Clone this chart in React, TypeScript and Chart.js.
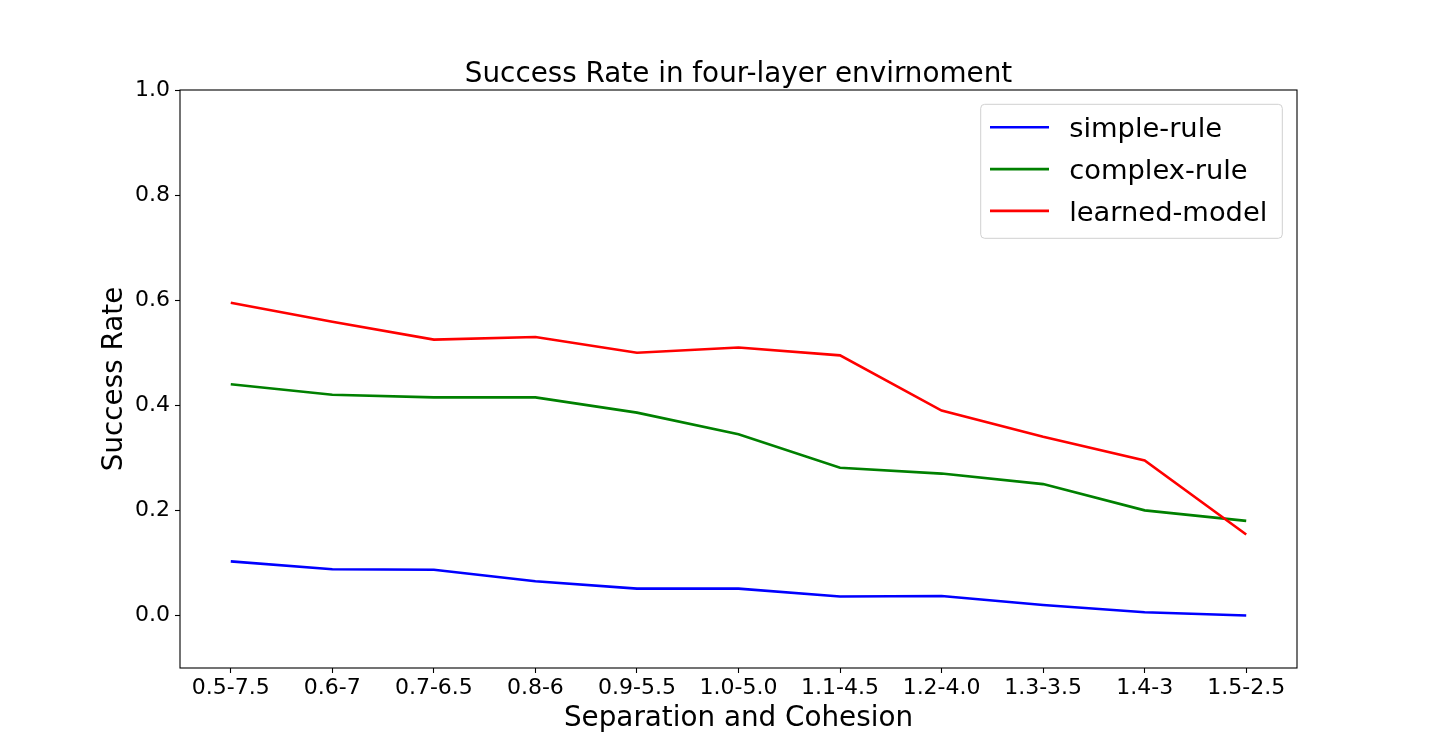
import React, { useEffect, useRef } from "react";
import { Chart, registerables } from "chart.js";

Chart.register(...registerables);

const categories = ["0.5-7.5", "0.6-7", "0.7-6.5", "0.8-6", "0.9-5.5", "1.0-5.0", "1.1-4.5", "1.2-4.0", "1.3-3.5", "1.4-3", "1.5-2.5"];
const simpleRule = [0.103, 0.088, 0.087, 0.065, 0.051, 0.051, 0.036, 0.037, 0.02, 0.006, 0.0];
const complexRule = [0.44, 0.42, 0.415, 0.415, 0.386, 0.345, 0.281, 0.27, 0.25, 0.2, 0.18];
const learnedModel = [0.595, 0.559, 0.525, 0.53, 0.5, 0.51, 0.495, 0.39, 0.34, 0.295, 0.154];
const yTicks = [0, 0.2, 0.4, 0.6, 0.8, 1.0];
const yMin = -0.1;
const yMax = 1.0;
const seriesNames = ["simple-rule", "complex-rule", "learned-model"];
const seriesColors = ["#0000ff", "#008000", "#ff0000"];
const titleText = "Success Rate in four-layer envirnoment";
const xTitle = "Separation and Cohesion";
const yTitle = "Success Rate";

const FONT = "'DejaVu Sans', sans-serif";

export default function App() {
  const ref = useRef<HTMLCanvasElement | null>(null);

  useEffect(() => {
    const canvas = ref.current;
    if (!canvas) return;

    const overlay = {
      id: "overlay",
      afterDraw(chart: any) {
        const { ctx, chartArea: a } = chart;
        ctx.save();
        // frame (all four spines)
        ctx.strokeStyle = "#000";
        ctx.lineWidth = 1.1;
        ctx.strokeRect(a.left, a.top, a.right - a.left, a.bottom - a.top);

        // title
        ctx.fillStyle = "#000";
        ctx.font = `27.8px ${FONT}`;
        ctx.textAlign = "center";
        ctx.textBaseline = "alphabetic";
        ctx.fillText(titleText, (a.left + a.right) / 2, a.top - 7.7);

        // legend
        ctx.font = `27.3px ${FONT}`;
        const boxW = 301.6;
        const boxH = 134;
        const boxRight = a.right - 14.7;
        const boxLeft = boxRight - boxW;
        const boxTop = a.top + 14.3;
        const r = 4;
        ctx.beginPath();
        ctx.moveTo(boxLeft + r, boxTop);
        ctx.lineTo(boxRight - r, boxTop);
        ctx.quadraticCurveTo(boxRight, boxTop, boxRight, boxTop + r);
        ctx.lineTo(boxRight, boxTop + boxH - r);
        ctx.quadraticCurveTo(boxRight, boxTop + boxH, boxRight - r, boxTop + boxH);
        ctx.lineTo(boxLeft + r, boxTop + boxH);
        ctx.quadraticCurveTo(boxLeft, boxTop + boxH, boxLeft, boxTop + boxH - r);
        ctx.lineTo(boxLeft, boxTop + r);
        ctx.quadraticCurveTo(boxLeft, boxTop, boxLeft + r, boxTop);
        ctx.closePath();
        ctx.fillStyle = "rgba(255,255,255,0.8)";
        ctx.fill();
        ctx.strokeStyle = "#d0d0d0";
        ctx.lineWidth = 1;
        ctx.stroke();

        seriesNames.forEach((name, i) => {
          const y = boxTop + 23 + i * 41.8;
          ctx.strokeStyle = seriesColors[i];
          ctx.lineWidth = 2.6;
          ctx.beginPath();
          ctx.moveTo(boxLeft + 9.3, y);
          ctx.lineTo(boxLeft + 68.3, y);
          ctx.stroke();
          ctx.fillStyle = "#000";
          ctx.textAlign = "left";
          ctx.textBaseline = "alphabetic";
          ctx.fillText(name, boxLeft + 88.5, y + 10);
        });
        ctx.restore();
      },
    };

    const series = [simpleRule, complexRule, learnedModel];
    const chart = new Chart(canvas, {
      type: "line",
      data: {
        labels: categories,
        datasets: series.map((d, i) => ({
          label: seriesNames[i],
          data: d,
          borderColor: seriesColors[i],
          backgroundColor: seriesColors[i],
          borderWidth: 2.6,
          pointRadius: 0,
          tension: 0,
          fill: false,
          order: 2 - i,
        })),
      },
      options: {
        responsive: false,
        animation: false,
        layout: { padding: { left: 0, top: 90, right: 143, bottom: 0 } },
        plugins: {
          legend: { display: false },
          tooltip: { enabled: false },
          title: { display: false },
        },
        scales: {
          x: {
            type: "category",
            offset: true,
            border: { display: false },
            grid: {
              display: true,
              drawOnChartArea: false,
              drawTicks: true,
              tickLength: 5,
              tickColor: "#000",
              tickWidth: 1.1,
            },
            ticks: {
              color: "#000",
              font: { family: FONT, size: 22 },
              padding: 2.2,
              maxRotation: 0,
              minRotation: 0,
              autoSkip: false,
            },
            title: {
              display: true,
              text: xTitle,
              color: "#000",
              font: { family: FONT, size: 27.8, lineHeight: 1.2 },
              padding: { top: 0, bottom: 14.3 },
            },
            afterFit: (s: any) => {
              s.height = 82;
            },
          },
          y: {
            type: "linear",
            min: yMin,
            max: yMax,
            border: { display: false },
            grid: {
              display: true,
              drawOnChartArea: false,
              drawTicks: true,
              tickLength: 5,
              tickColor: "#000",
              tickWidth: 1.1,
            },
            afterBuildTicks: (s: any) => {
              s.ticks = yTicks.map((v) => ({ value: v }));
            },
            ticks: {
              color: "#000",
              font: { family: FONT, size: 22 },
              padding: 5,
              callback: (v: any) => Number(v).toFixed(1),
            },
            title: {
              display: true,
              text: yTitle,
              color: "#000",
              font: { family: FONT, size: 27.8, lineHeight: 1.2 },
              padding: { top: 98.3, bottom: 0 },
            },
            afterFit: (s: any) => {
              s.width = 180;
            },
          },
        },
      },
      plugins: [overlay],
    } as any);

    return () => {
      chart.destroy();
    };
  }, []);

  return (
    <div style={{ position: "absolute", left: 0, top: 0, width: 1440, height: 750, background: "#fff" }}>
      <canvas ref={ref} width={1440} height={750} style={{ display: "block", width: 1440, height: 750 }} />
    </div>
  );
}
